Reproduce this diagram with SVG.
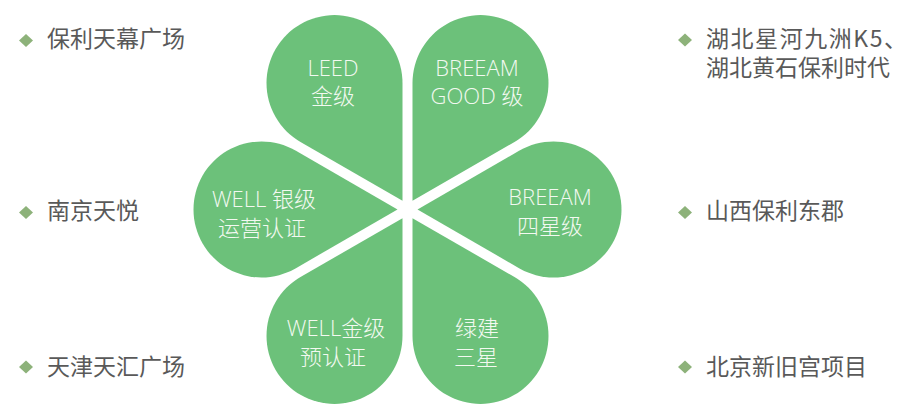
<svg xmlns="http://www.w3.org/2000/svg" xmlns:xlink="http://www.w3.org/1999/xlink" width="910" height="404" viewBox="0 0 910 404">
  <style>
    .petal { fill: #6cc17a; }
    .pt { fill: #f3f9f1; font-family: "Open Sans", "Noto Sans CJK SC", sans-serif; font-weight: 300; font-size: 22px; text-anchor: middle; }
    .lt { fill: #595959; font-family: "Noto Sans CJK SC", sans-serif; font-size: 23px; }
    .dia { fill: #8db27a; }
  </style>
  <defs>
    <path id="petal" d="M10,0 L112,-58.89 A68,68 0 1 1 112,58.89 Z"/>
    <path id="dia" d="M0,-6.5 L7,0 L0,6.5 L-7,0 Z"/>
  </defs>
  <rect width="910" height="404" fill="#ffffff"/>

  <g id="petal-leed">
    <use href="#petal" class="petal" transform="translate(407.5,209.5) rotate(-120)"/>
    <text class="pt" x="333" y="76">LEED</text>
    <text class="pt" x="333" y="104">金级</text>
  </g>
  <g id="petal-breeam-good">
    <use href="#petal" class="petal" transform="translate(407.5,209.5) rotate(-60)"/>
    <text class="pt" x="477" y="76">BREEAM</text>
    <text class="pt" x="477" y="104">GOOD 级</text>
  </g>
  <g id="petal-breeam-4">
    <use href="#petal" class="petal" transform="translate(407.5,209.5)"/>
    <text class="pt" x="550" y="205">BREEAM</text>
    <text class="pt" x="550" y="234">四星级</text>
  </g>
  <g id="petal-well-silver">
    <use href="#petal" class="petal" transform="translate(407.5,209.5) rotate(180)"/>
    <text class="pt" x="264" y="207">WELL 银级</text>
    <text class="pt" x="262" y="236">运营认证</text>
  </g>
  <g id="petal-well-gold">
    <use href="#petal" class="petal" transform="translate(407.5,209.5) rotate(120)"/>
    <text class="pt" x="336" y="336">WELL金级</text>
    <text class="pt" x="333" y="365">预认证</text>
  </g>
  <g id="petal-green">
    <use href="#petal" class="petal" transform="translate(407.5,209.5) rotate(60)"/>
    <text class="pt" x="477" y="336">绿建</text>
    <text class="pt" x="476" y="365">三星</text>
  </g>

  <g id="connectors"/>

  <g id="list-left-1">
    <use href="#dia" class="dia" x="26" y="40.5"/>
    <text class="lt" x="47" y="47">保利天幕广场</text>
  </g>
  <g id="list-left-2">
    <use href="#dia" class="dia" x="26" y="212.5"/>
    <text class="lt" x="47" y="219">南京天悦</text>
  </g>
  <g id="list-left-3">
    <use href="#dia" class="dia" x="26" y="367"/>
    <text class="lt" x="47" y="375">天津天汇广场</text>
  </g>
  <g id="list-right-1">
    <use href="#dia" class="dia" x="685" y="40"/>
    <text class="lt"><tspan x="706" y="47" textLength="201" lengthAdjust="spacing">湖北星河九洲K5、</tspan><tspan x="706" y="76">湖北黄石保利时代</tspan></text>
  </g>
  <g id="list-right-2">
    <use href="#dia" class="dia" x="685" y="212.5"/>
    <text class="lt" x="706" y="219">山西保利东郡</text>
  </g>
  <g id="list-right-3">
    <use href="#dia" class="dia" x="685" y="367"/>
    <text class="lt" x="706" y="375">北京新旧宫项目</text>
  </g>
</svg>
